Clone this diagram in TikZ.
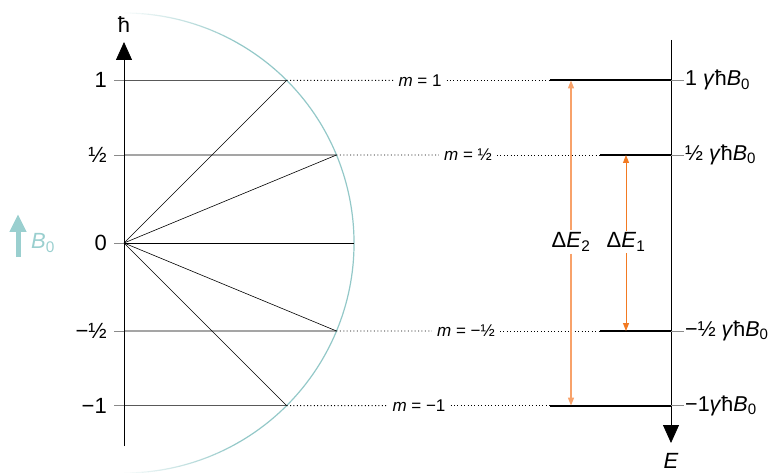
\documentclass[tikz,border=0pt]{standalone}
\usepackage{fontspec}
\setmainfont{Liberation Sans}
\usepackage{xcolor}
\definecolor{shellteal}{HTML}{93C8C8}
\definecolor{fieldteal}{HTML}{9ACFCF}
\definecolor{tickgray}{HTML}{8A8A8A}
\definecolor{orangelo}{HTML}{F8A26A}
\definecolor{orangehi}{HTML}{F27A22}
\usetikzlibrary{arrows.meta,calc}
\tikzset{
  axis/.style={draw=black, line width=0.8pt, -{Triangle[length=18pt, width=16pt]}},
  tick/.style={draw=tickgray, line width=0.7pt},
  vec/.style={draw=black, line width=0.6pt},
  level/.style={draw=black, line width=1.8pt},
  guide/.style={draw=black, line width=0.9pt, dash pattern=on 1pt off 2.4pt},
  shell/.style={draw=shellteal, line width=1.2pt},
  numlbl/.style={font=\fontsize{22}{26}\selectfont, anchor=east, inner sep=1pt},
  mlbl/.style={font=\fontsize{17}{20}\selectfont, inner sep=5pt},
  elbl/.style={font=\fontsize{21.5}{25}\selectfont, anchor=west, inner sep=1pt},
  gaplbl/.style={font=\fontsize{22}{26}\selectfont, inner sep=2pt},
  trans/.style={line width=1.4pt, -{Triangle[length=8pt, width=6pt]}},
}
\def\R{230}

\begin{document}
\begin{tikzpicture}[x=1pt, y=1pt]
  \useasboundingbox (0,0) rectangle (774,472);

  % vector model, left
  \coordinate (o) at (124,229);
  \foreach \n/\a in {p1/45, ph/22.5, p0/0, pmh/-22.5, pm1/-45}
    \coordinate (\n) at ($(o)+(\a:\R)$);

  \draw[shell] ($(o)+(60:\R)$) arc[start angle=60, end angle=-60, radius=\R];
  \foreach \a [evaluate=\a as \op using {1-\a/20}] in {0,...,19} {
    \draw[shell, opacity=\op] ($(o)+(60+1.5*\a:\R)$)
      arc[start angle=60+1.5*\a, end angle=61.5+1.5*\a, radius=\R];
    \draw[shell, opacity=\op] ($(o)+(-60-1.5*\a:\R)$)
      arc[start angle=-60-1.5*\a, end angle=-61.5-1.5*\a, radius=\R];
  }

  \coordinate (hb) at (124,26);
  \coordinate (ht) at (124,430);
  \draw[axis] (hb) -- (ht);
  \node[font=\fontsize{22}{26}\selectfont, inner sep=0pt] (hbar) at (124,447) {ħ};

  \node[numlbl] (n1) at (108,391.6) {1};
  \node[numlbl] (nh) at (108,317) {½};
  \node[numlbl] (n0) at (108,229) {0};
  \node[numlbl] (nmh) at (108,141) {−½};
  \node[numlbl] (nm1) at (108,66.4) {−1};

  \foreach \n/\p in {n1/p1, nh/ph, n0/p0, nmh/pmh, nm1/pm1} {
    \draw[tick] ([xshift=6pt]\n.east) -- (\n.east -| o);
    \draw[vec] (\n.east -| o) -- (\p);
  }
  \foreach \p in {p1, ph, pmh, pm1}
    \draw[vec] (o) -- (\p);

  % field
  \draw[fieldteal, line width=5pt, -{Triangle[length=18pt, width=16pt]}] (18,215) -- (18,258);
  \node[text=fieldteal, font=\fontsize{22}{26}\selectfont, anchor=west, inner sep=0pt]
    (b0) at (31,229) {\textit{B}\textsubscript{0}};

  % energy levels, right
  \coordinate (eb) at (671,432);
  \coordinate (et) at (671,29);
  \draw[axis] (eb) -- (et);
  \node[font=\fontsize{22}{26}\selectfont\itshape, inner sep=0pt] (elab) at (671,11) {E};

  \coordinate (lv1) at (550,391.6);
  \coordinate (lvh) at (600,317);
  \coordinate (lvmh) at (600,141);
  \coordinate (lvm1) at (550,66.4);

  \node[mlbl] (m1) at (420,391.6) {\textit{m} = 1};
  \node[mlbl] (mh) at (468,317) {\textit{m} = ½};
  \node[mlbl] (mmh) at (466,141) {\textit{m} = −½};
  \node[mlbl] (mm1) at (419,66.4) {\textit{m} = −1};

  \node[elbl] (r1) at (684,391.6) {1 \textit{γ}ħ\textit{B}\textsubscript{0}};
  \node[elbl] (rh) at (684,317) {½ \textit{γ}ħ\textit{B}\textsubscript{0}};
  \node[elbl] (rmh) at (684,141) {−½ \textit{γ}ħ\textit{B}\textsubscript{0}};
  \node[elbl] (rm1) at (684,66.4) {−1\textit{γ}ħ\textit{B}\textsubscript{0}};

  \foreach \p/\m/\l/\r in {p1/m1/lv1/r1, ph/mh/lvh/rh, pmh/mmh/lvmh/rmh, pm1/mm1/lvm1/rm1} {
    \draw[guide] (\p) -- (\m.west);
    \draw[guide] (\m.east) -- (\l);
    \draw[level] (\l) -- (\l -| eb);
    \draw[tick] (\l -| eb) -- (\r.west);
  }

  % transitions
  \node[gaplbl] (de2) at (571,230) {Δ\textit{E}\textsubscript{2}};
  \node[gaplbl] (de1) at (626,230) {Δ\textit{E}\textsubscript{1}};
  \draw[trans, orangelo] (de2) -- (de2 |- lv1);
  \draw[trans, orangelo] (de2) -- (de2 |- lvm1);
  \draw[trans, orangehi, line width=1pt] (de1) -- (de1 |- lvh);
  \draw[trans, orangehi, line width=1pt] (de1) -- (de1 |- lvmh);

\end{tikzpicture}
\end{document}
